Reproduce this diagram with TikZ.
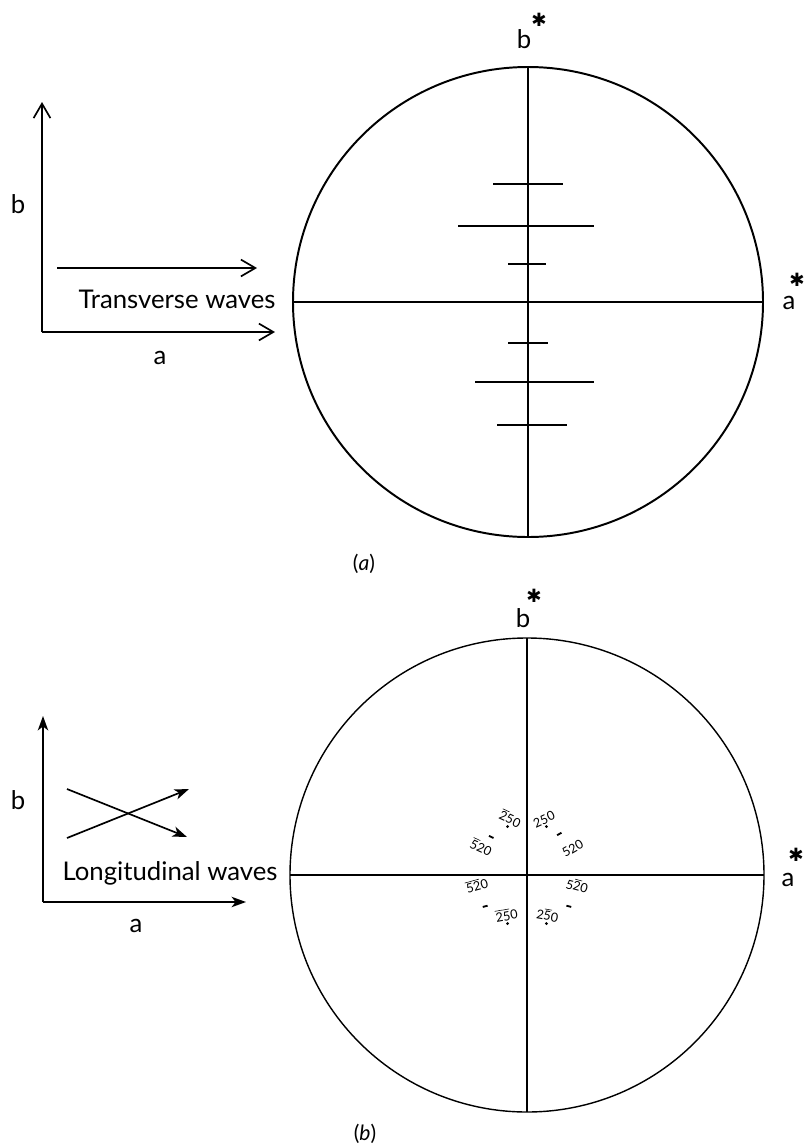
\documentclass[tikz,border=0pt]{standalone}
\usepackage{fontspec}
\setmainfont{Lato}
\newfontfamily\djv{DejaVu Sans}
\usetikzlibrary{calc}
\usetikzlibrary{arrows.meta}

\newcommand{\nb}[1]{\ensuremath{\overline{\mbox{#1}}}}

\begin{document}
\begin{tikzpicture}[
		x=0.025cm, y=-0.025cm,
		lbl/.style = {inner sep=0pt, font=\fontsize{18.3}{21}\selectfont},
		ast/.style = {inner sep=0pt, font=\djv\fontsize{13}{13}\selectfont},
		captxt/.style = {inner sep=0pt, font=\fontsize{15}{17}\selectfont},
		idx/.style = {inner sep=0.5pt, font=\fontsize{9}{10}\selectfont},
		ba/.style = {line width=1.2pt, -{Straight Barb[length=3.6mm, width=4.2mm, line width=1.2pt]}},
		sa/.style = {line width=1.2pt, -{Stealth[length=3.6mm, width=2.6mm, inset=1mm]}},
		dia/.style = {line width=1pt},
		tk/.style = {line width=0.9pt}
		]
		
		\useasboundingbox (0,0) rectangle (803,1145);
		
		%Coordinates (a)
		\coordinate	(cA)	at	(528, 302);
		\coordinate	(oA)	at	(42, 332);
		\coordinate	(bA)	at	(42, 102);
		\coordinate	(aA)	at	(275, 332);
		\coordinate	(wA1)	at	(57, 268);
		\coordinate	(wA2)	at	(257, 268);
		
		%Coordinates (b)
		\coordinate	(cB)	at	(527, 875);
		\coordinate	(oB)	at	(43, 902);
		\coordinate	(bB)	at	(43, 716);
		\coordinate	(aB)	at	(246, 902);
		\coordinate	(wB1)	at	(67, 838);
		\coordinate	(wB2)	at	(189, 789);
		\coordinate	(wB3)	at	(67, 789);
		\coordinate	(wB4)	at	(187, 837);
		
		%Nodes
		\node[lbl]	(bTa)	at	(18, 204)		{b};
		\node[lbl]	(aTa)	at	(160, 358)		{a};
		\node[lbl, anchor=base]	(tw)	at	(177, 308)	{Transverse waves};
		\node[lbl]	(bsA)	at	(524, 39)		{b};
		\node[ast]	(bsAst)	at	(539, 20)		{✱};
		\node[lbl]	(asA)	at	(789, 303)		{a};
		\node[ast]	(asAst)	at	(797, 280)		{✱};
		\node[captxt]	(capA)	at	(364, 564)		{(\textit{a})};
		
		\node[lbl]	(bTb)	at	(18, 800)		{b};
		\node[lbl]	(aTb)	at	(136, 926)		{a};
		\node[lbl, anchor=base]	(lw)	at	(170, 880)	{Longitudinal waves};
		\node[lbl]	(bsB)	at	(523, 618)		{b};
		\node[ast]	(bsBst)	at	(534, 596)		{✱};
		\node[lbl]	(asB)	at	(788, 880)		{a};
		\node[ast]	(asBst)	at	(796, 855)		{✱};
		\node[captxt]	(capB)	at	(365, 1134)		{(\textit{b})};
		
		%Circles
		\draw[line width=1.4pt]	(cA)	circle	(235);
		\draw[line width=1pt]	(cB)	circle	(237);
		
		%Lines (a)
		\draw[dia]	($(cA)+(-235,0)$)	--	($(cA)+(235,0)$);
		\draw[dia]	($(cA)+(0,-235)$)	--	($(cA)+(0,235)$);
		\foreach \y/\xa/\xb in {184/493/563, 226/458/594, 264/508/546, 343/508/548, 382/475/594, 425/497/567}
			\draw[tk]	(\xa, \y)	--	(\xb, \y);
		
		\draw[ba]	(oA)	--	(bA);
		\draw[ba]	(oA)	--	(aA);
		\draw[ba]	(wA1)	--	(wA2);
		
		%Lines (b)
		\draw[line width=1.1pt]	($(cB)+(-237,0)$)	--	($(cB)+(237,0)$);
		\draw[line width=1.6pt]	($(cB)+(0,-237)$)	--	($(cB)+(0,237)$);
		
		\draw[sa]	(oB)	--	(bB);
		\draw[sa]	(oB)	--	(aB);
		\draw[sa]	(wB1)	--	(wB2);
		\draw[sa]	(wB3)	--	(wB4);
		
		%Spots
		\foreach \h/\k/\t/\r in {2/5/250/25, -2/5/\nb{2}50/-25, 2/-5/2\nb{5}0/-10, -2/-5/\nb{2}\nb{5}0/10}{
			\fill	($(cB)+(9.7*\h, -9.7*\k)$)	circle	(1.6);
			\node[idx, rotate=\r, anchor=south]	at	($(cB)+(9.7*\h, -9.7*\k-2)$)	{\t};
		}
		\foreach \h/\k/\t/\r in {5/2/520/30, -5/2/\nb{5}20/-25, 5/-2/5\nb{2}0/-15, -5/-2/\nb{5}\nb{2}0/15}{
			\draw[line width=1.3pt, rotate around={\r:($(cB)+(9.7*\h, -9.7*\k)$)}]	($(cB)+(9.7*\h-2.5, -9.7*\k)$)	--	($(cB)+(9.7*\h+2.5, -9.7*\k)$);
			\node[idx, rotate=\r, anchor=south]	at	($(cB)+(9.7*\h, -9.7*\k-2.5)$)	{\t};
		}
	\end{tikzpicture}
\end{document}
